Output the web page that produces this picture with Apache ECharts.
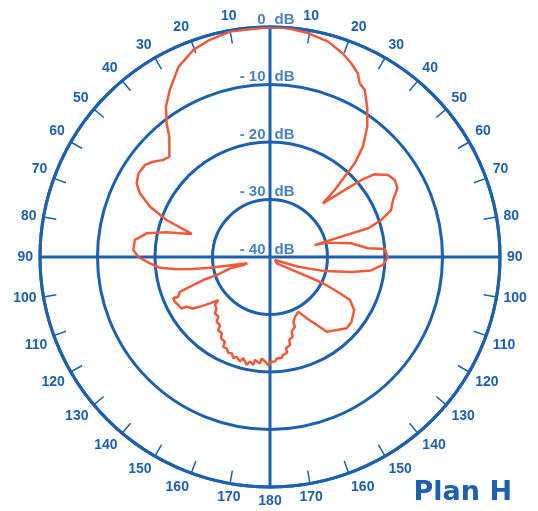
<!DOCTYPE html>
<html><head><meta charset="utf-8">
<script src="https://cdn.jsdelivr.net/npm/echarts@6/dist/echarts.min.js"></script>
<style>html,body{margin:0;padding:0;background:#fff}#c{width:538px;height:511px}</style>
</head><body><div id="c"></div>
<script>
// Radiation pattern: angle (deg, clockwise from top) and level (dB)
const patternAngles = [0,4.5,9.6,15.1,19.7,22.8,25.6,27.3,29.6,33.2,36.7,40.1,42.1,42.9,44.0,44.6,48.1,49.9,51.6,55.2,58.3,61.6,65.1,68.8,71.6,73.7,74.1,75.0,76.1,80.4,84.9,86.0,90.2,94.0,97.6,100.4,104.5,109,121,133,118.5,116.3,117.4,118.3,122.2,128.4,132.9,137.6,142.8,145.5,149.1,152.6,154.0,157.3,160.2,160.3,163.8,164.1,166.9,167.2,170.1,169.8,172.6,173.4,176.2,177.3,179.6,180.9,182.7,184.7,185.4,188.3,188.8,190.8,192.2,194.8,196.0,198.5,199.9,201.7,203.4,205.4,207.5,208.0,211.2,212.3,215.3,216.3,219.5,220.9,224.3,226.1,228.9,230.2,232.3,234.6,236.2,239.2,239.8,242.4,244.8,246.9,246.6,248.9,249.4,249.9,251.0,251.3,254.2,253.3,254.5,258.6,259.9,261.1,262.5,264.4,267,270,272.9,277.2,280.9,283.4,286.4,289.7,292.7,296.1,298.9,302.4,306.4,309.2,312.3,314.9,320.1,322.3,325.3,329.1,334.3,339.7,344.5,350,360];
const patternDb = [0,-0.1,-0.5,-1.2,-2.4,-3.5,-4.6,-6.0,-6.6,-9.1,-11.7,-14.9,-18.0,-20.9,-23.8,-26.9,-22.6,-19.2,-16.8,-15.0,-14.5,-14.8,-16.4,-17.4,-19.6,-22.2,-27.1,-32.0,-29.6,-25.7,-22.9,-20.0,-19.5,-20.3,-22.3,-25.5,-30.2,-34.8,-39.0,-38.4,-34.1,-29.7,-26.3,-24.2,-22.7,-21.9,-21.8,-22.8,-23.7,-25.7,-27.6,-29.3,-29.4,-28.7,-28.0,-27.1,-26.5,-25.6,-25.2,-24.3,-23.9,-23.1,-22.8,-22.3,-22.3,-21.8,-21.8,-21.2,-21.8,-22.3,-21.4,-21.9,-21.0,-21.5,-20.8,-21.8,-21.1,-21.7,-21.3,-22.0,-21.8,-22.4,-22.4,-23.3,-23.5,-24.3,-24.4,-25.3,-25.4,-26.3,-26.3,-27.1,-27.3,-28.3,-26.8,-25.1,-23.9,-23.1,-22.2,-22.0,-21.7,-21.7,-22.6,-23.2,-24.5,-25.8,-27.7,-30.2,-32.8,-35.2,-35.9,-32.3,-29.4,-26.5,-23.6,-20.8,-19.1,-17.1,-16.2,-16.3,-18.2,-21.5,-25.8,-20.9,-17.4,-14.8,-13.5,-12.9,-13.0,-13.8,-14.9,-15.3,-12.7,-10.6,-8.2,-6.1,-3.3,-1.6,-0.8,-0.2,0];

// Radial rings (dB) and their labels
const ringValues = [0, -10, -20, -30, -40];
const ringLabels = ['0', '- 10', '- 20', '- 30', '- 40'];
const ringUnit = 'dB';

// Angle tick labels every 10 degrees (0..350)
const angleLabels = ['', '10','20','30','40','50','60','70','80','90','100','110','120','130','140','150','160','170','180','170','160','150','140','130','120','110','100','90','80','70','60','50','40','30','20','10'];

const titleText = 'Plan H';

const BLUE = '#1c60ae';
const RED = '#ef5a3a';
const FONT = 'Liberation Sans';

const chart = echarts.init(document.getElementById('c'), null, {renderer: 'canvas'});
const labelStyle = {color: BLUE, fontFamily: FONT, fontWeight: 'bold', fontSize: 14};
const ringLabelStyle = {color: BLUE, fontFamily: FONT, fontWeight: 'bold', fontSize: 15};

chart.setOption({
  animation: false,
  title: {text: titleText, right: 21, bottom: 0,
    textStyle: {fontFamily: 'DejaVu Sans', fontWeight: 'bold', fontSize: 27, color: BLUE}},
  polar: {center: [270, 257], radius: 230},
  angleAxis: {
    type: 'value', min: 0, max: 360, interval: 10, startAngle: 90, clockwise: true,
    axisLine: {lineStyle: {color: BLUE, width: 3}},
    axisTick: {show: true, inside: true, length: 13, lineStyle: {color: BLUE, width: 1.5}},
    axisLabel: Object.assign({margin: 7, formatter: v => angleLabels[Math.round(v / 10) % 36]}, labelStyle),
    splitLine: {show: false}
  },
  radiusAxis: {
    type: 'value', min: -40, max: 0, interval: 10,
    axisLine: {show: false}, axisTick: {show: false}, axisLabel: {show: false},
    splitLine: {show: true, lineStyle: {color: BLUE, width: 3}}
  },
  series: [
    {type: 'line', coordinateSystem: 'polar', data: [[0, 0], [0, 180]], showSymbol: false, silent: true,
     lineStyle: {color: BLUE, width: 3}, z: 2},
    {type: 'line', coordinateSystem: 'polar', data: [[0, 90], [0, 270]], showSymbol: false, silent: true,
     lineStyle: {color: BLUE, width: 3}, z: 2},
    {type: 'line', coordinateSystem: 'polar', showSymbol: false, silent: true, z: 4,
     data: patternAngles.map((a, i) => [patternDb[i], a]),
     lineStyle: {color: RED, width: 2.5}},
    {type: 'scatter', coordinateSystem: 'polar', symbolSize: 1, silent: true, z: 5,
     itemStyle: {color: 'rgba(0,0,0,0)'},
     data: ringValues.map((v, i) => ({value: [v, 0], name: ringLabels[i]})),
     label: Object.assign({show: true, position: 'left', distance: 4, verticalAlign: 'bottom', formatter: p => p.name}, ringLabelStyle)},
    {type: 'scatter', coordinateSystem: 'polar', symbolSize: 1, silent: true, z: 5,
     itemStyle: {color: 'rgba(0,0,0,0)'},
     data: ringValues.map(v => ({value: [v, 0], name: ringUnit})),
     label: Object.assign({show: true, position: 'right', distance: 4, verticalAlign: 'bottom', formatter: p => p.name}, ringLabelStyle)}
  ]
});
</script></body></html>
